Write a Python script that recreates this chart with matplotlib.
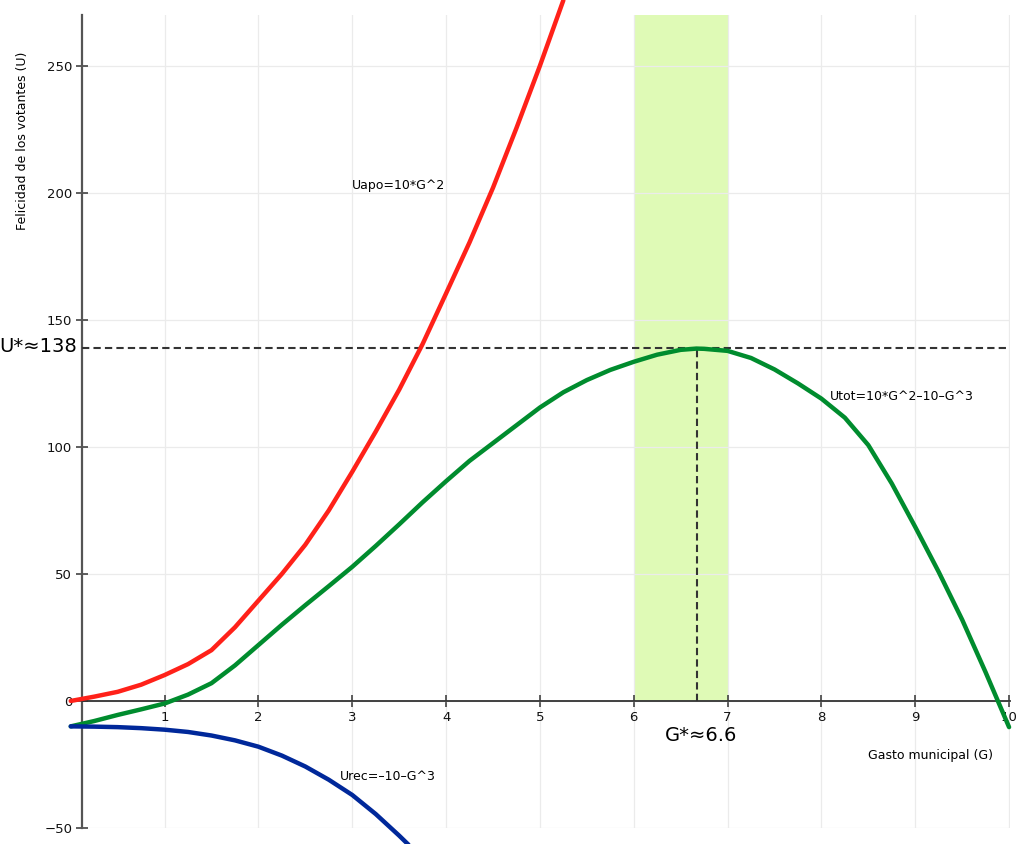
import matplotlib
matplotlib.use("Agg")
import matplotlib.pyplot as plt

# valores (cada 0.25)
g_apo = [0, 0.25, 0.5, 0.75, 1, 1.25, 1.5, 1.75, 2, 2.25, 2.5, 2.75, 3, 3.25, 3.5, 3.75,
         4, 4.25, 4.5, 4.75, 5, 5.25]
u_apo = [0, 1.7, 3.6, 6.4, 10.2, 14.5, 20, 29, 39.5, 50, 61.5, 75, 90.2, 106, 122.5, 140.5,
         160.4, 180.5, 202, 225.5, 250, 275.8]

g_rec = [0, 0.25, 0.5, 0.75, 1, 1.25, 1.5, 1.75, 2, 2.25, 2.5, 2.75, 3, 3.25, 3.5, 3.6]
u_rec = [-10, -10.1, -10.3, -10.7, -11.3, -12.2, -13.6, -15.5, -18, -21.5, -25.8, -31, -37,
         -44.5, -53, -56.6]

g_tot = [0, 0.25, 0.5, 0.75, 1, 1.25, 1.5, 1.75, 2, 2.25, 2.5, 2.75, 3, 3.25, 3.5, 3.75,
         4, 4.25, 4.5, 4.75, 5, 5.25, 5.5, 5.75, 6, 6.25, 6.5, 6.67, 6.75, 7, 7.25, 7.5,
         7.75, 8, 8.25, 8.5, 8.75, 9, 9.25, 9.5, 9.75, 10]
u_tot = [-10, -7.9, -5.5, -3.3, -1, 2.5, 7, 14, 22, 30, 37.7, 45.2, 52.8, 61, 69.5, 78.2,
         86.5, 94.5, 101.5, 108.5, 115.5, 121.5, 126.3, 130.3, 133.5, 136.3, 138.2, 138.7, 138.6,
         137.8, 135, 130.5, 125, 119, 111.5, 100.7, 85.6, 68.5, 50.8, 32, 11.3, -10.3]

g_opt = 6.67
u_opt = 139
banda = (6, 7)

xticks = [1, 2, 3, 4, 5, 6, 7, 8, 9, 10]
yticks = [-50, 0, 50, 100, 150, 200, 250]

plt.rcParams['font.family'] = ['DejaVu Sans']

fig = plt.figure(figsize=(10.24, 8.44), dpi=100)
ax = fig.add_axes([82/1024, 1-828/844, (1010-82)/1024, (828-15)/844])
x0, x1 = 0.12, 10.01
y0, y1 = -50, 270
ax.set_xlim(x0, x1)
ax.set_ylim(y0, y1)

# banda verde
ax.axvspan(banda[0], banda[1], ymin=(0-y0)/(y1-y0), ymax=1, color='#dffab6', lw=0, zorder=0.1)

ax.set_axisbelow(True)
ax.grid(True, color='#ebebeb', lw=0.9)

for s in ['top', 'right']:
    ax.spines[s].set_visible(False)
ax.spines['bottom'].set_position(('data', 0))
ax.spines['bottom'].set_color('#333333')
ax.spines['left'].set_color('#555555')
ax.spines['bottom'].set_linewidth(1.3)
ax.spines['left'].set_linewidth(1.6)

ax.set_xticks(xticks)
ax.set_yticks(yticks)
ax.tick_params(direction='inout', length=8, width=1.1, color='#333333', labelsize=9.5, labelcolor='#111111')
ax.tick_params(axis='x', pad=3)
ax.tick_params(axis='y', pad=3)

# lineas punteadas
ax.plot([x0, x1], [u_opt, u_opt], color='#333333', lw=1.5, dashes=(3.5, 2), zorder=3)
ax.plot([g_opt, g_opt], [0, u_opt], color='#333333', lw=1.5, dashes=(3.5, 2), zorder=3)

ax.plot(g_apo, u_apo, color='#ff2119', lw=3.2, clip_on=False, zorder=4, solid_capstyle='round', solid_joinstyle='round')
ax.plot(g_tot, u_tot, color='#008c2e', lw=3.2, clip_on=False, zorder=4, solid_capstyle='round', solid_joinstyle='round')
ax.plot(g_rec, u_rec, color='#00289a', lw=3.2, clip_on=False, zorder=4, solid_capstyle='round', solid_joinstyle='round')

ax.text(3.0, 203, "Uapo=10*G^2", fontsize=9, ha='left', va='center')
ax.text(8.09, 120, "Utot=10*G^2\u201310\u2013G^3", fontsize=9, ha='left', va='center')
ax.text(2.87, -29.9, "Urec=\u201310\u2013G^3", fontsize=9, ha='left', va='center')
ax.text(6.72, -13.4, "G*\u22486.6", fontsize=14, ha='center', va='center')

fig.text(77/1024, 1-347/844, "U*\u2248138", fontsize=14, ha='right', va='center')
fig.text(23/1024, 1-141/844, "Felicidad de los votantes (U)", fontsize=9, rotation=90,
         ha='center', va='center')
fig.text(931/1024, 1-756/844, "Gasto municipal (G)", fontsize=9, ha='center', va='center')

fig.savefig("out.png", dpi=100)
